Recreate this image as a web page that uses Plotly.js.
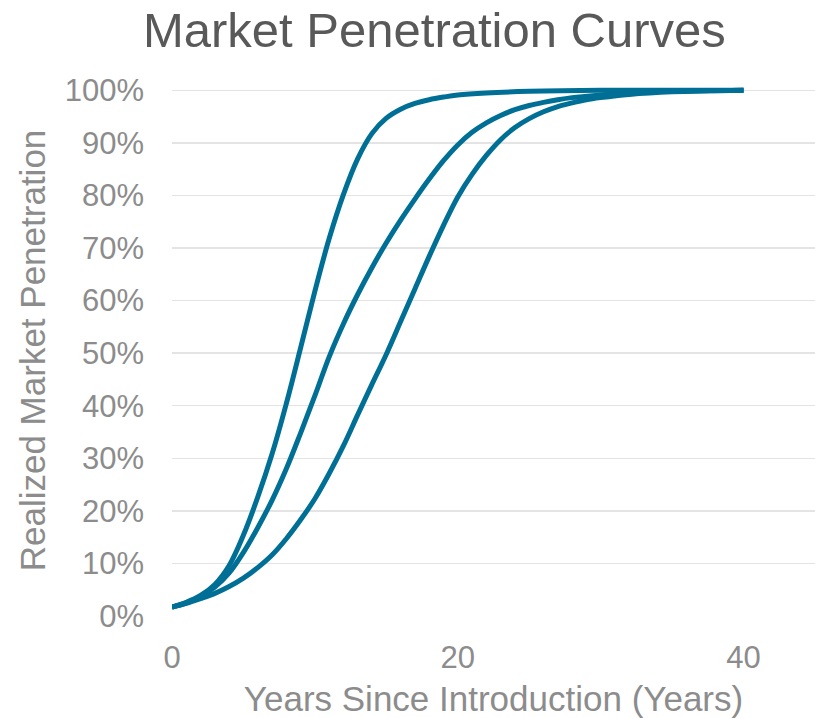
<!DOCTYPE html>
<html>
<head>
<meta charset="utf-8">
<script src="https://cdn.plot.ly/plotly-3.0.1.min.js"></script>
<style>
  html, body { margin: 0; padding: 0; background: #ffffff; }
  #chart { width: 815px; height: 718px; }
</style>
</head>
<body>
<div id="chart"></div>
<script>
// Years since introduction for each curve
const yearsFast = [0,1,2,3,4,5,6,7,8,9,10,11,12,13,14,15,16,17,18,19,20,22,25,30,35,40];
const yearsMid  = [0,1,2,3,4,5,6,7,8,9,10,11,12,13,14,15,16,17,18,19,20,21,22,23,24,25,26,27,28,30,32,35,40];
const yearsSlow = [0,1,2,3,4,5,6,7,8,9,10,11,12,13,14,15,16,17,18,19,20,21,22,23,24,25,26,27,28,29,30,32,35,40];

// Realized market penetration (share of market)
const penetrationFast = [0.017,0.026,0.039,0.060,0.096,0.154,0.226,0.308,0.404,0.510,0.618,0.718,0.802,0.870,0.918,0.947,0.964,0.975,0.982,0.987,0.991,0.995,0.998,1.000,1.000,1.000];
const penetrationMid  = [0.017,0.025,0.037,0.055,0.082,0.121,0.168,0.220,0.280,0.348,0.419,0.493,0.556,0.612,0.663,0.710,0.753,0.793,0.831,0.866,0.896,0.920,0.938,0.952,0.963,0.971,0.977,0.982,0.986,0.991,0.995,0.998,1.000];
const penetrationSlow = [0.017,0.024,0.033,0.043,0.056,0.072,0.092,0.116,0.147,0.183,0.223,0.271,0.324,0.383,0.441,0.498,0.560,0.622,0.684,0.743,0.797,0.840,0.876,0.906,0.929,0.946,0.959,0.969,0.976,0.982,0.986,0.992,0.997,1.000];

// Axis tick labels
const xTickVals = [0, 20, 40];
const xTickText = ['0', '20', '40'];
const yTickVals = [0,0.1,0.2,0.3,0.4,0.5,0.6,0.7,0.8,0.9,1.0];
const yTickText = ['0%','10%','20%','30%','40%','50%','60%','70%','80%','90%','100%'];

const lineColor = '#006f96';
const textGray = '#8c8c8c';
const fontFamily = 'Arial, "Liberation Sans", sans-serif';

function curve(x, y) {
  return {
    x: x, y: y, type: 'scatter', mode: 'lines',
    line: { color: lineColor, width: 5, shape: 'spline', smoothing: 1 },
    hoverinfo: 'skip', showlegend: false
  };
}

const data = [
  curve(yearsSlow, penetrationSlow),
  curve(yearsMid, penetrationMid),
  curve(yearsFast, penetrationFast)
];

const layout = {
  width: 815, height: 718,
  margin: { l: 172, r: 0, t: 85, b: 102 },
  paper_bgcolor: '#ffffff', plot_bgcolor: '#ffffff',
  font: { family: fontFamily, color: textGray },
  title: {
    text: 'Market Penetration Curves',
    font: { family: fontFamily, size: 49, color: '#595959' },
    x: 0.533, xanchor: 'center', y: 0.958, yanchor: 'middle'
  },
  xaxis: {
    range: [0, 45],
    tickvals: xTickVals, ticktext: xTickText,
    tickfont: { size: 31, color: textGray },
    showgrid: false, zeroline: false, showline: false,
    ticks: '', ticklabelstandoff: 20,
    title: { text: 'Years Since Introduction (Years)', font: { size: 35, color: textGray }, standoff: 14 }
  },
  yaxis: {
    range: [0, 1.01],
    tickvals: yTickVals, ticktext: yTickText,
    tickfont: { size: 31, color: textGray },
    showgrid: true, gridcolor: '#e4e4e4', gridwidth: 1.4,
    zeroline: false, showline: false,
    ticks: '', ticklabelstandoff: 27,
    title: { text: 'Realized Market Penetration', font: { size: 35, color: textGray }, standoff: 8 }
  }
};

Plotly.newPlot('chart', data, layout, { staticPlot: true, displayModeBar: false });
</script>
</body>
</html>
